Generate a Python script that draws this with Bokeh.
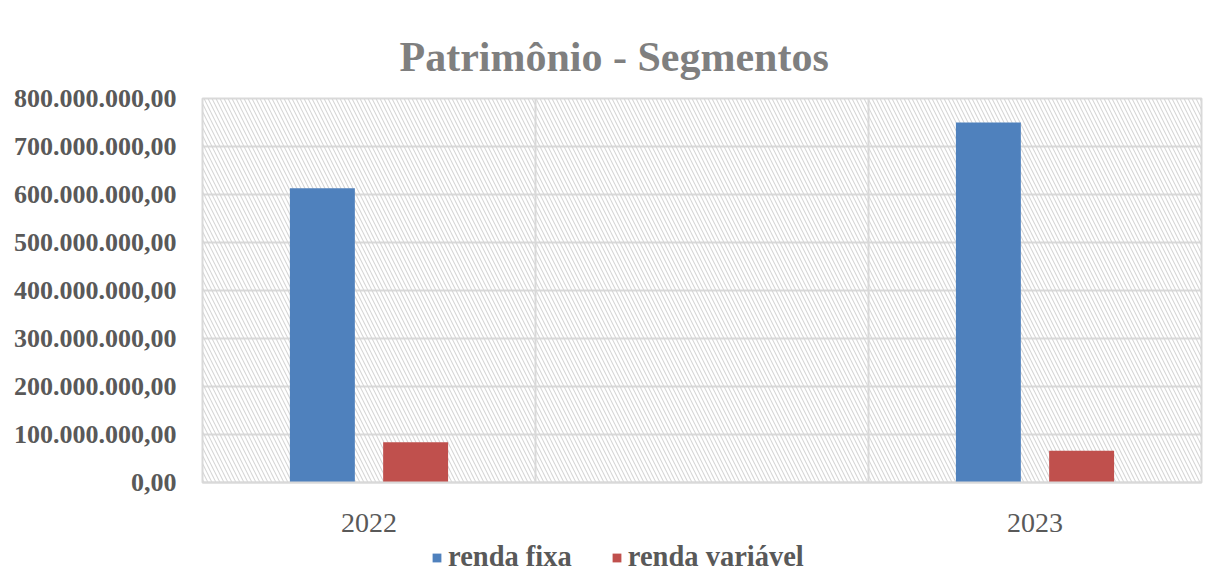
from bokeh.plotting import figure
from bokeh.layouts import column
from bokeh.models import (FactorRange, ColumnDataSource, Span, BoxAnnotation, Legend,
                          LegendItem, FixedTicker, Title, Range1d)
from bokeh.transform import dodge
from bokeh.embed import file_html
from bokeh.resources import INLINE

# ---- data ----
axis_categories = ["2022", " ", "2023"]
years = ["2022", "2023"]
renda_fixa = [613_000_000, 750_000_000]
renda_variavel = [84_000_000, 66_000_000]
series_names = ["renda fixa", "renda variável"]
y_ticks = [0, 100_000_000, 200_000_000, 300_000_000, 400_000_000,
           500_000_000, 600_000_000, 700_000_000, 800_000_000]
y_tick_labels = ["0,00", "100.000.000,00", "200.000.000,00", "300.000.000,00",
                 "400.000.000,00", "500.000.000,00", "600.000.000,00",
                 "700.000.000,00", "800.000.000,00"]
title_text = "Patrimônio - Segmentos"

BLUE = "#4F81BD"
RED = "#C0504D"
GRID = "#d9d9d9"
TXT = "#595959"
SERIF = "Liberation Serif"

src = ColumnDataSource(dict(year=years, fixa=renda_fixa, var=renda_variavel))

p = figure(width=1207, height=540, output_backend="svg", toolbar_location=None,
           x_range=FactorRange(factors=axis_categories, range_padding=0, factor_padding=0),
           y_range=Range1d(0, 800_000_000),
           min_border_left=202, min_border_top=98, min_border_right=6,
           min_border_bottom=56)

p.add_layout(Title(text=title_text, align="left", offset=197, standoff=38,
                   text_font=SERIF, text_font_size="42px", text_font_style="bold",
                   text_color="#7f7f7f"), "above")

# hatched background
p.add_layout(BoxAnnotation(fill_alpha=0, line_alpha=0, hatch_pattern="left_diagonal_line",
                           hatch_color="#d6d6d6", hatch_scale=8, hatch_weight=1.1,
                           level="underlay"))

p.vbar(x=dodge("year", -0.14, range=p.x_range), top="fixa", width=0.195,
       source=src, color=BLUE, line_color=None)
p.vbar(x=dodge("year", 0.14, range=p.x_range), top="var", width=0.195,
       source=src, color=RED, line_color=None)

# vertical grid lines at category boundaries
for loc in (1, 2):
    p.add_layout(Span(location=loc, dimension="height", line_color=GRID, line_width=2,
                      level="underlay"))

p.xgrid.visible = False
p.ygrid.ticker = FixedTicker(ticks=y_ticks)
p.ygrid.grid_line_color = GRID
p.ygrid.grid_line_width = 2

p.outline_line_color = GRID
p.outline_line_width = 2

p.yaxis.ticker = FixedTicker(ticks=y_ticks)
p.yaxis.major_label_overrides = {t: l for t, l in zip(y_ticks, y_tick_labels)}
p.yaxis.axis_line_color = None
p.yaxis.major_tick_line_color = None
p.yaxis.minor_tick_line_color = None
p.yaxis.major_label_text_font = SERIF
p.yaxis.major_label_text_font_size = "26px"
p.yaxis.major_label_text_font_style = "bold"
p.yaxis.major_label_text_color = TXT
p.yaxis.major_label_standoff = 20

p.xaxis.axis_line_color = GRID
p.xaxis.axis_line_width = 2
p.xaxis.major_tick_line_color = None
p.xaxis.minor_tick_line_color = None
p.xaxis.major_label_text_font = SERIF
p.xaxis.major_label_text_font_size = "28px"
p.xaxis.major_label_text_color = TXT
p.xaxis.major_label_standoff = 18

p.background_fill_color = "white"
p.border_fill_color = "white"

# ---- legend strip (bars of the same data, kept far outside its visible y range) ----
lg = figure(width=1207, height=47, output_backend="svg", toolbar_location=None,
            x_range=FactorRange(factors=axis_categories, range_padding=0, factor_padding=0),
            y_range=Range1d(1e10, 2e10),
            min_border=0, x_axis_type=None, y_axis_type=None)
lg.grid.visible = False
lg.outline_line_color = None
lr1 = lg.vbar(x=dodge("year", -0.14, range=lg.x_range), top="fixa", width=0.195,
              source=src, color=BLUE, line_color=None)
lr2 = lg.vbar(x=dodge("year", 0.14, range=lg.x_range), top="var", width=0.195,
              source=src, color=RED, line_color=None)
legend = Legend(items=[LegendItem(label=series_names[0], renderers=[lr1]),
                       LegendItem(label=series_names[1], renderers=[lr2])],
                orientation="horizontal", location=(229, 14),
                label_text_font=SERIF, label_text_font_size="28.5px",
                label_text_font_style="bold", label_text_color=TXT,
                glyph_width=11, glyph_height=11, label_standoff=6, spacing=39,
                padding=0, margin=0, border_line_color=None, background_fill_alpha=0)
lg.add_layout(legend, "center")

layout = column(p, lg, spacing=0)
open("out.html", "w").write(file_html(layout, INLINE))
